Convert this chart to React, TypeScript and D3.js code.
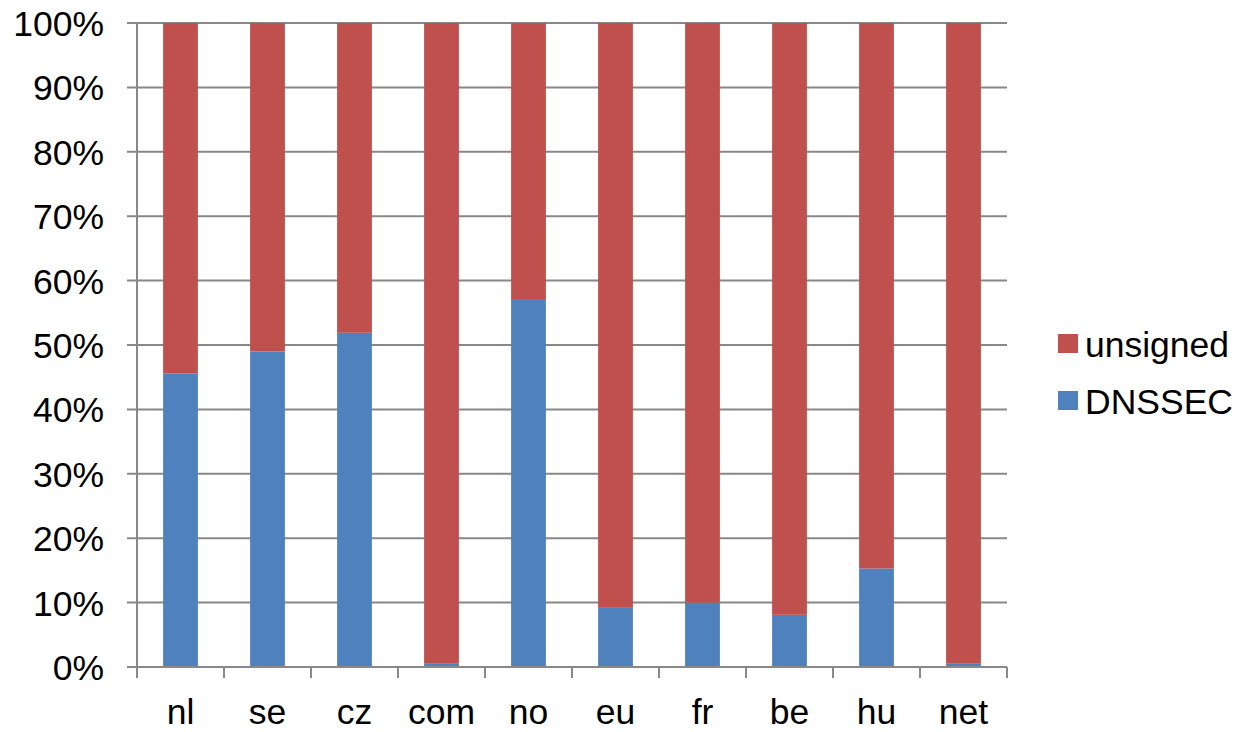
import React from "react";
import * as d3 from "d3";

// Share of signed vs unsigned domains per TLD (percent)
const categories = ["nl", "se", "cz", "com", "no", "eu", "fr", "be", "hu", "net"];
const dnssec = [45.6, 49.0, 51.9, 0.5, 57.0, 9.3, 10.0, 8.1, 15.3, 0.5];
const unsigned = dnssec.map((v) => 100 - v);
const yTicks = [0, 10, 20, 30, 40, 50, 60, 70, 80, 90, 100];
const seriesNames = ["unsigned", "DNSSEC"];

const W = 1244;
const H = 732;
const margin = { left: 137, right: 1007, top: 23, bottom: 667 };
const colors: Record<string, string> = { DNSSEC: "#4F81BD", unsigned: "#C0504D" };
const axisColor = "#888888";
const font = "'Liberation Sans', Arial, sans-serif";
const fontSize = 35.5;

export default function App() {
  const x = d3
    .scaleBand<string>()
    .domain(categories)
    .range([margin.left, margin.right])
    .paddingInner(0.6)
    .paddingOuter(0.3);
  const y = d3.scaleLinear().domain([0, 100]).range([margin.bottom, margin.top]);
  const step = x.step();
  const rows = categories.map((c, i) => ({ c, DNSSEC: dnssec[i], unsigned: unsigned[i] }));
  const stacked = d3.stack<any>().keys(["DNSSEC", "unsigned"])(rows);

  return (
    <svg
      width={W}
      height={H}
      style={{ position: "absolute", left: 0, top: 0, background: "#fff" }}
      fontFamily={font}
    >
      {/* gridlines and y ticks */}
      {yTicks.map((t) => (
        <g key={t}>
          <line
            x1={margin.left - 10}
            x2={margin.right}
            y1={y(t)}
            y2={y(t)}
            stroke={axisColor}
            strokeWidth={2}
          />
          <text
            x={104}
            y={y(t) + 1}
            textAnchor="end"
            dominantBaseline="central"
            fontSize={fontSize}
            fill="#000"
          >
            {t}%
          </text>
        </g>
      ))}
      {/* bars */}
      {stacked.map((s) => (
        <g key={s.key} fill={colors[s.key]}>
          {s.map((d, i) => (
            <rect
              key={i}
              x={x(categories[i])}
              width={x.bandwidth()}
              y={y(d[1])}
              height={y(d[0]) - y(d[1])}
            />
          ))}
        </g>
      ))}
      {/* y axis line */}
      <line
        x1={margin.left}
        x2={margin.left}
        y1={margin.top}
        y2={margin.bottom}
        stroke={axisColor}
        strokeWidth={2}
      />
      {/* x axis line and category tick marks */}
      <line
        x1={margin.left}
        x2={margin.right}
        y1={margin.bottom}
        y2={margin.bottom}
        stroke={axisColor}
        strokeWidth={2}
      />
      {d3.range(categories.length + 1).map((i) => (
        <line
          key={i}
          x1={margin.left + i * step}
          x2={margin.left + i * step}
          y1={margin.bottom}
          y2={margin.bottom + 11}
          stroke={axisColor}
          strokeWidth={2}
        />
      ))}
      {categories.map((c) => (
        <text
          key={c}
          x={(x(c) ?? 0) + x.bandwidth() / 2}
          y={724}
          textAnchor="middle"
          fontSize={fontSize}
          fill="#000"
        >
          {c}
        </text>
      ))}
      {/* legend */}
      {seriesNames.map((n, i) => (
        <g key={n} transform={`translate(1058, ${334 + i * 57})`}>
          <rect width={20} height={19} fill={colors[n]} />
          <text x={27} y={11} dominantBaseline="central" fontSize={fontSize} fill="#000">
            {n}
          </text>
        </g>
      ))}
    </svg>
  );
}
